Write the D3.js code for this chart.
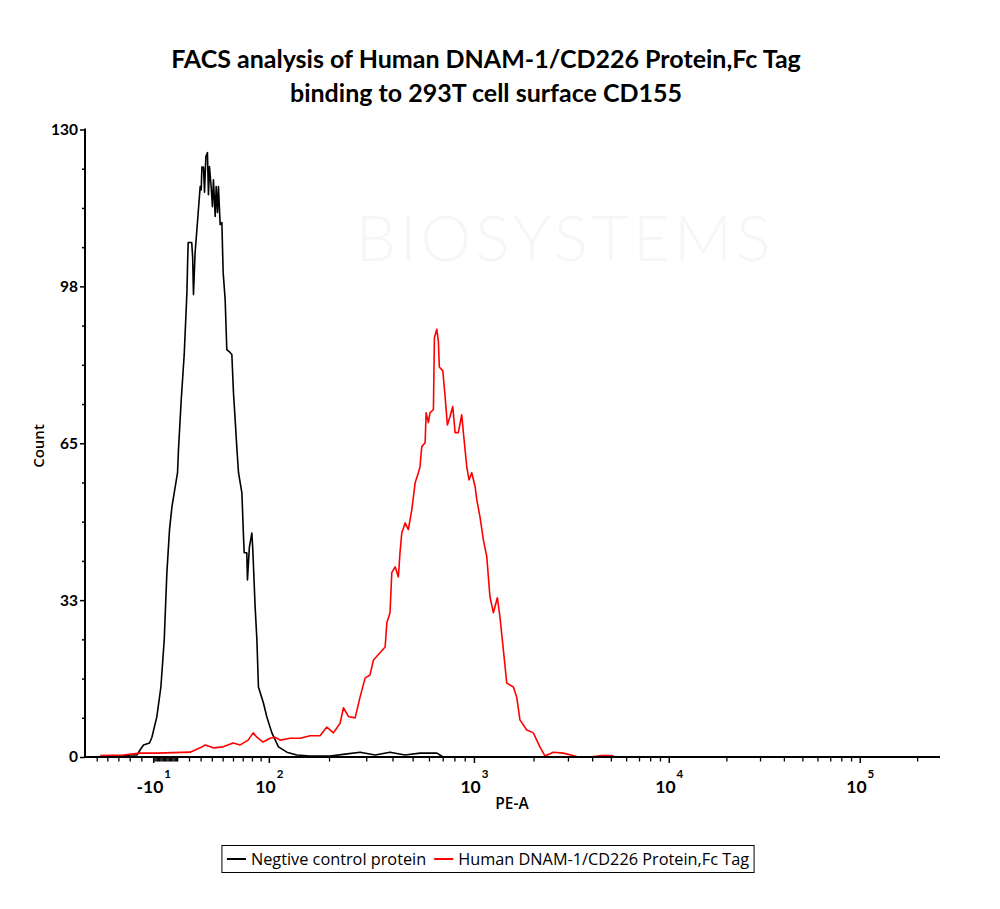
<!DOCTYPE html>
<html><head><meta charset="utf-8">
<script src="https://cdn.jsdelivr.net/npm/d3@7"></script>
<style>body{margin:0;background:#fff}svg{display:block}</style>
</head><body><svg id="c" width="1000" height="909"></svg>
<script>
// ---------------- data ----------------
const titleLines = ["FACS analysis of Human DNAM-1/CD226 Protein,Fc Tag", "binding to 293T cell surface CD155"];
const xAxisTitle = "PE-A";
const yAxisTitle = "Count";
const seriesNames = ["Negtive control protein", "Human DNAM-1/CD226 Protein,Fc Tag"];
const seriesColors = ["#000000", "#ff0000"];
const watermarkText = "BIOSYSTEMS";

// [PE-A value, count]
const negativeControl = [[-57.1,0.1],[-43.3,0.2],[-36.1,0.2],[-30.0,0.4],[-24.2,0.4],[-21.4,1.5],[-18.6,2.5],[-13.5,2.9],[-11.5,4.1],[-7.4,8.3],[-4.0,14.5],[-1.2,24.3],[1.0,38.2],[3.2,47.1],[5.2,51.8],[9.9,58.9],[10.7,63.7],[13.0,74.0],[15.5,83.3],[17.8,96.2],[18.5,103.5],[18.9,106.6],[21.9,106.6],[22.7,103.5],[23.4,95.8],[24.8,104.5],[27.0,111.3],[29.2,118.2],[30.1,117.5],[30.7,122.2],[32.1,122.2],[33.0,117.0],[34.2,124.4],[35.6,125.2],[36.5,116.5],[37.4,122.3],[38.9,118.2],[40.1,114.0],[41.0,119.6],[42.6,112.0],[43.5,118.2],[44.7,112.8],[45.6,118.2],[47.2,110.3],[48.8,110.7],[50.0,100.4],[51.9,94.8],[53.5,84.4],[55.7,84.0],[58.4,83.4],[60.0,75.5],[61.7,69.9],[63.4,64.1],[65.1,58.9],[68.6,54.7],[70.3,45.6],[71.0,42.3],[73.8,42.3],[74.5,36.7],[76.6,43.5],[79.3,46.4],[80.4,42.9],[83.0,31.1],[85.0,24.3],[86.8,14.5],[92.7,11.2],[96.9,8.3],[103.2,5.0],[111.9,2.1],[123.7,1.0],[138.8,0.4],[161.3,0.2],[201.1,0.2],[237.3,0.6],[278.9,1.0],[329,0.4],[387,1.0],[457,0.4],[540,0.8],[653,0.8],[699,0]];

const dnam1Fc = [[-57.1,0.3],[-36.1,0.4],[-21.4,0.8],[-7.4,0.8],[6.3,0.9],[20.6,1.0],[29.2,1.9],[33.6,2.5],[40.8,1.9],[50.0,2.1],[59.7,2.9],[66.8,2.5],[75.2,3.5],[80.8,5.0],[85.0,4.1],[92.3,3.1],[101.0,3.9],[107.4,4.1],[114.2,3.5],[128.5,3.9],[144.1,3.9],[161.3,4.4],[180.2,4.4],[194.2,6.2],[208.8,5.0],[224.4,7.0],[232.9,10.2],[245.7,8.4],[264.5,8.1],[278.9,12.4],[295.0,16.4],[311.0,17.0],[322.8,20.1],[346.9,21.6],[367.0,22.8],[373.8,27.8],[387.1,29.9],[394.8,38.2],[409.6,39.4],[424.5,37.3],[432.1,42.3],[440.7,46.4],[457.4,48.5],[474.1,47.1],[492.4,51.2],[511.2,56.8],[530.0,58.9],[539.6,60.1],[550.5,64.3],[571.6,65.1],[578.0,71.3],[592.7,69.3],[603.5,71.3],[627.2,72.0],[634.4,86.9],[651.7,88.6],[663.2,86.1],[670.4,80.8],[697.2,80.0],[715.8,74.6],[734.3,68.8],[756.1,70.5],[780.7,72.6],[801.7,67.2],[831.8,67.2],[864.7,70.9],[881.1,67.2],[915.9,60.1],[939.6,57.4],[969.5,58.9],[1007.7,56.0],[1027.4,53.3],[1065.5,49.8],[1108.2,45.0],[1152.5,41.5],[1195.7,33.2],[1244.2,29.9],[1303,33.0],[1342.6,29.0],[1397.1,22.2],[1453.3,15.3],[1569.3,14.5],[1632.7,12.4],[1694.3,7.7],[1835.5,5.6],[1983.2,5.0],[2142,2.1],[2275.8,0.2],[2509,1.0],[2824,0.8],[3309,0.1],[3869,0],[4452,0.3],[5016,0.3],[5230,0]];

const xDomain = [-72, 262000];
const xMajorTicks = [-10, 100, 1000, 10000, 100000];
const xMajorBase = ["-10", "10", "10", "10", "10"];
const xMajorExp = ["1", "2", "3", "4", "5"];
const xMinorTicks = [-60,-50,-40,-30,-20,-9,-8,-7,-6,-5,-4,-3,-2,-1,0,1,2,3,4,5,6,7,8,9,10,20,30,40,50,60,70,80,90,200,300,400,500,600,700,800,900,2000,3000,4000,5000,6000,7000,8000,9000,20000,30000,40000,50000,60000,70000,80000,90000,200000];

const yDomain = [0, 130];
const yMajorTicks = [0, 32.5, 65, 97.5, 130];
const yMajorLabels = ["0", "33", "65", "98", "130"];
const yMinorTicks = [8.125,16.25,24.375,40.625,48.75,56.875,73.125,81.25,89.375,105.625,113.75,121.875];

// ---------------- biexponential display transform ----------------
const BX = {a: 22.58, b: 95.3, w: 82.8, r: 170};
function biexValue(t) { return BX.a * Math.exp(t) - BX.b * Math.exp(-t * BX.w / BX.r) + (BX.b - BX.a); }
function biexDisplay(v) {
  let lo = -6, hi = 16;
  for (let i = 0; i < 80; i++) { const m = (lo + hi) / 2; if (biexValue(m) < v) lo = m; else hi = m; }
  return (lo + hi) / 2;
}

// ---------------- layout ----------------
const L = 85, Rr = 940, T = 129.5, B = 757;
const svg = d3.select("#c");
const FONT = "Lato, 'Open Sans', sans-serif";
const LFONT = "'Open Sans', 'DejaVu Sans', sans-serif";

const xLin = d3.scaleLinear().domain(xDomain.map(biexDisplay)).range([L, Rr]);
const x = v => xLin(biexDisplay(v));
const y = d3.scaleLinear().domain(yDomain).range([B, T]);

// watermark
svg.append("text").attr("x", 565).attr("y", 261).attr("text-anchor", "middle")
  .attr("font-family", "Lato, sans-serif").attr("font-weight", 300).attr("font-size", 64).attr("letter-spacing", 4)
  .attr("fill", "#f6f6f6").text(watermarkText);

// title
svg.append("g").selectAll("text").data(titleLines).join("text")
  .attr("x", 486).attr("y", (d, i) => 68 + i * 34).attr("text-anchor", "middle")
  .attr("font-family", "Lato, sans-serif").attr("font-weight", "bold").attr("font-size", 25)
  .attr("fill", "#000").text(d => d);

// clip
svg.append("clipPath").attr("id", "plotclip").append("rect")
  .attr("x", L).attr("y", T - 5).attr("width", Rr - L).attr("height", B - T + 5);

const line = d3.line().x(d => x(d[0])).y(d => y(d[1]));
const gLines = svg.append("g").attr("clip-path", "url(#plotclip)");
[negativeControl, dnam1Fc].forEach((s, i) => {
  gLines.append("path").datum(s).attr("d", line).attr("fill", "none")
    .attr("stroke", seriesColors[i]).attr("stroke-width", 1.6).attr("stroke-linejoin", "round");
});

// y axis
const gy = svg.append("g").attr("transform", `translate(${L},0)`);
gy.call(d3.axisLeft(y).tickValues(yMinorTicks).tickSize(3).tickFormat(""))
  .call(g => g.select(".domain").remove());
gy.selectAll(".tick line").attr("stroke-width", 1.5);
const gy2 = svg.append("g").attr("transform", `translate(${L},0)`);
gy2.call(d3.axisLeft(y).tickValues(yMajorTicks).tickSize(5).tickPadding(2)
  .tickFormat((d, i) => yMajorLabels[i]))
  .call(g => g.select(".domain").remove());
gy2.selectAll(".tick line").attr("stroke-width", 1.5);
gy2.selectAll(".tick text").attr("font-family", FONT).attr("font-weight", "bold")
  .attr("font-size", 15.5).attr("fill", "#000");
svg.append("line").attr("x1", L).attr("x2", L).attr("y1", T - 1).attr("y2", B + 1)
  .attr("stroke", "#000").attr("stroke-width", 2);

// x axis
svg.append("line").attr("x1", L - 1).attr("x2", Rr).attr("y1", B).attr("y2", B)
  .attr("stroke", "#000").attr("stroke-width", 2);
svg.append("g").selectAll("line").data(xMinorTicks).join("line")
  .attr("x1", d => x(d)).attr("x2", d => x(d)).attr("y1", B).attr("y2", B + 4.5)
  .attr("stroke", "#000").attr("stroke-width", 1.3);
svg.append("g").selectAll("line").data(xMajorTicks).join("line")
  .attr("x1", d => x(d)).attr("x2", d => x(d)).attr("y1", B).attr("y2", B + 6)
  .attr("stroke", "#000").attr("stroke-width", 1.5);
const xl = svg.append("g").selectAll("text").data(xMajorTicks).join("text")
  .attr("x", d => x(d)).attr("y", 793).attr("text-anchor", "middle")
  .attr("font-family", FONT).attr("font-weight", "bold").attr("font-size", 17.5).attr("fill", "#000");
xl.append("tspan").text((d, i) => xMajorBase[i]);
xl.append("tspan").attr("dy", -15).attr("dx", 1).attr("font-size", 11.5).text((d, i) => xMajorExp[i]);

// axis titles
svg.append("text").attr("x", 512).attr("y", 809).attr("text-anchor", "middle")
  .attr("font-family", LFONT).attr("font-weight", 600).attr("font-size", 15.5).attr("fill", "#000").text(xAxisTitle);
svg.append("text").attr("transform", "translate(44,446) rotate(-90)").attr("text-anchor", "middle")
  .attr("font-family", LFONT).attr("font-weight", 600).attr("font-size", 15).attr("fill", "#000").text(yAxisTitle);

// legend
const lg = svg.append("g");
const box = lg.append("rect").attr("y", 845.5).attr("height", 27).attr("fill", "#fff")
  .attr("stroke", "#000").attr("stroke-width", 1);
const items = [];
seriesNames.forEach((n, i) => {
  const gi = lg.append("g");
  gi.append("line").attr("x1", 0).attr("x2", 19).attr("y1", 859).attr("y2", 859)
    .attr("stroke", seriesColors[i]).attr("stroke-width", 2);
  const t = gi.append("text").attr("x", 24).attr("y", 864.5).attr("font-family", LFONT)
    .attr("font-size", 16.3).attr("fill", "#000").text(n);
  const w = 24 + t.node().getComputedTextLength();
  items.push({gi, w});
});
const gap = 8, pad = 5;
const total = items.reduce((s, it) => s + it.w, 0) + gap * (items.length - 1) + pad * 2;
const bx = 488 - total / 2;
box.attr("x", bx).attr("width", total);
let cx = bx + pad;
items.forEach(it => { it.gi.attr("transform", `translate(${cx},0)`); cx += it.w + gap; });
</script></body></html>
